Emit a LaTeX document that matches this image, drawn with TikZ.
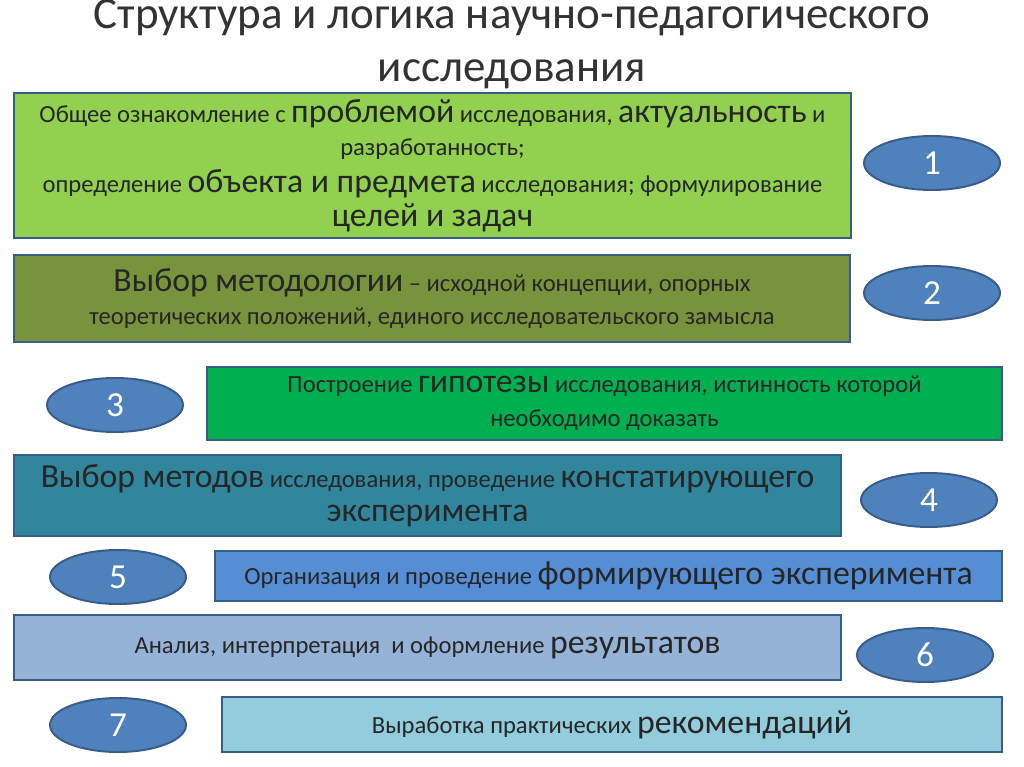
\documentclass[tikz,border=0pt]{standalone}
\usepackage{fontspec}
\setmainfont{Carlito}
\usetikzlibrary{shapes.geometric}
\definecolor{edge}{HTML}{385D8A}
\definecolor{cA}{HTML}{92D050}
\definecolor{cB}{HTML}{77933C}
\definecolor{cC}{HTML}{00B050}
\definecolor{cD}{HTML}{31859C}
\definecolor{cE}{HTML}{558ED5}
\definecolor{cF}{HTML}{95B3D7}
\definecolor{cG}{HTML}{93CDDD}
\definecolor{oval}{HTML}{4F81BD}
\newcommand\bw[1]{{\fontsize{24}{26}\selectfont #1}}
\begin{document}
\begin{tikzpicture}[x=0.025cm, y=-0.025cm,
  stepbox/.style={draw=edge, line width=1.4pt, align=center, inner sep=0pt,
    font=\fontsize{17.5}{24}\selectfont, text=black!85},
  numoval/.style={ellipse, draw=edge, line width=1.4pt, fill=oval, text=white,
    inner sep=0pt, font=\fontsize{25}{26}\selectfont}]
\useasboundingbox (0,0) rectangle (1024,767);
\node (title) at (512,44) [align=center, font=\fontsize{32}{38}\selectfont, text=black!80]
  {Структура и логика научно-педагогического\\исследования};
% boxes
\node (s1) [stepbox, fill=cA, minimum width=837*0.025cm, minimum height=145*0.025cm] at (432.5,165.5)
  {Общее ознакомление с \bw{проблемой} исследования, \bw{актуальность} и\\
   разработанность;\\[2pt]
   определение \bw{объекта и предмета} исследования; формулирование\\
   \bw{целей и задач}};
\node (s2) [stepbox, fill=cB, minimum width=836*0.025cm, minimum height=87*0.025cm] at (432,298.5)
  {\bw{Выбор методологии} -- исходной концепции, опорных\\
   теоретических положений, единого исследовательского замысла};
\node (s3) [stepbox, fill=cC, minimum width=795*0.025cm, minimum height=73*0.025cm] at (604.5,403.5)
  {Построение \bw{гипотезы} исследования, истинность которой\\необходимо доказать};
\node (s4) [stepbox, fill=cD, minimum width=827*0.025cm, minimum height=81*0.025cm] at (427.5,495.5)
  {\bw{Выбор методов} исследования, проведение \bw{констатирующего}\\\bw{эксперимента}};
\node (s5) [stepbox, fill=cE, minimum width=787*0.025cm, minimum height=50*0.025cm] at (608.5,576)
  {Организация и проведение \bw{формирующего эксперимента}};
\node (s6) [stepbox, fill=cF, minimum width=827*0.025cm, minimum height=65*0.025cm] at (427.5,647.5)
  {Анализ, интерпретация\ \ и оформление \bw{результатов}};
\node (s7) [stepbox, fill=cG, minimum width=780*0.025cm, minimum height=55*0.025cm] at (612,724.5)
  {Выработка практических \bw{рекомендаций}};
% ovals
\foreach \n/\x/\y in {1/932/163, 2/932/293, 3/115/405, 4/929/500, 5/118/577, 6/925/655, 7/118/725}
  \node (n\n) [numoval, minimum width=136*0.025cm, minimum height=54*0.025cm] at (\x,\y) {\n};
\end{tikzpicture}
\end{document}
